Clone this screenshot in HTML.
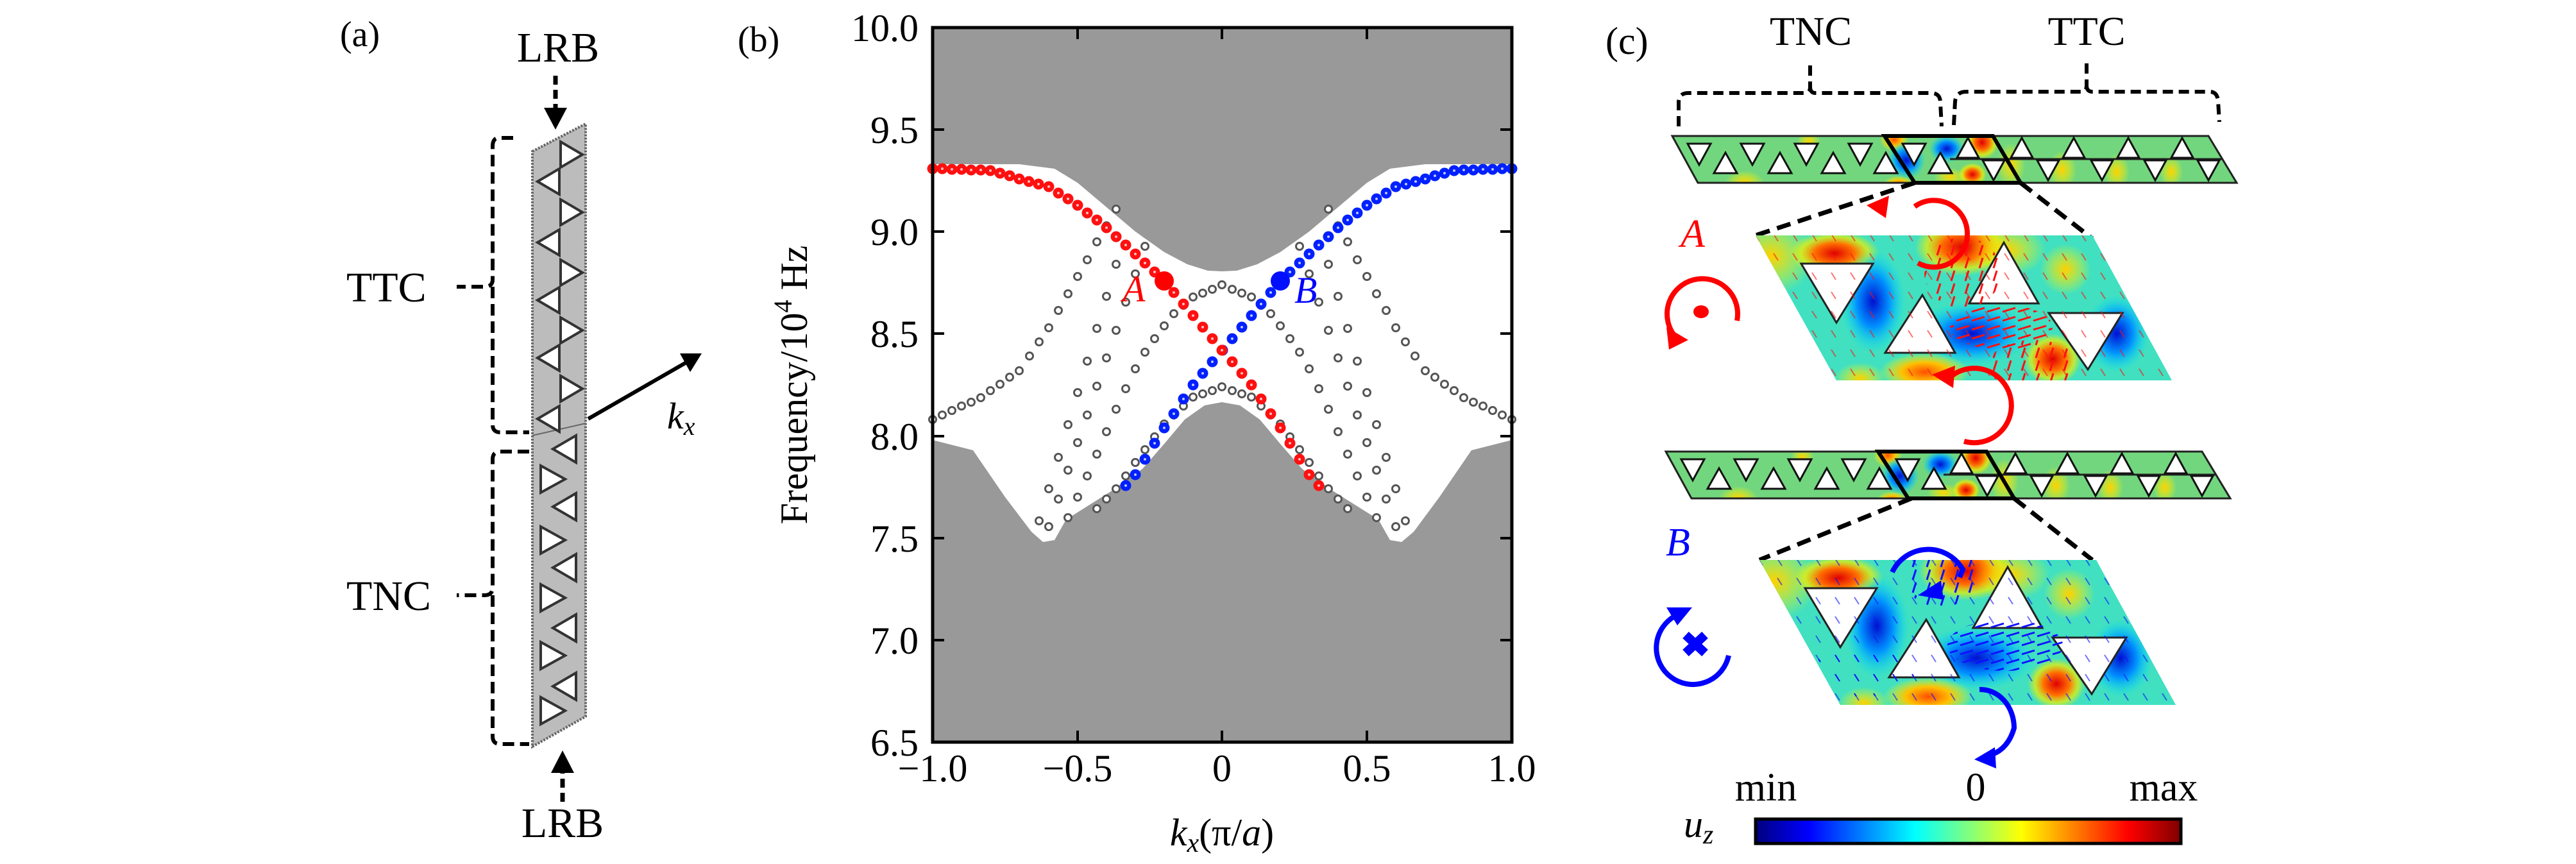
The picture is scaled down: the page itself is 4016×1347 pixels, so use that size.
<!DOCTYPE html>
<html><head><meta charset="utf-8"><style>
html,body{margin:0;padding:0;background:#fff;}
svg{display:block;}
text{font-family:"Liberation Serif",serif;}
</style></head><body>
<svg width="4016" height="1347" viewBox="0 0 4016 1347" xmlns="http://www.w3.org/2000/svg" xmlns:xlink="http://www.w3.org/1999/xlink">
<defs>
<linearGradient id="jet" x1="0" x2="1" y1="0" y2="0">
<stop offset="0" stop-color="#00007f"/><stop offset="0.125" stop-color="#0000ff"/><stop offset="0.375" stop-color="#00ffff"/><stop offset="0.625" stop-color="#ffff00"/><stop offset="0.875" stop-color="#ff0000"/><stop offset="1" stop-color="#7f0000"/>
</linearGradient>
<radialGradient id="gR"><stop offset="0" stop-color="#e00000"/><stop offset="0.45" stop-color="#ff7000"/><stop offset="0.75" stop-color="#f0f000" stop-opacity="0.7"/><stop offset="1" stop-color="#f0f000" stop-opacity="0"/></radialGradient>
<radialGradient id="gO"><stop offset="0" stop-color="#ff5000"/><stop offset="0.5" stop-color="#ffc000"/><stop offset="1" stop-color="#ffff00" stop-opacity="0"/></radialGradient>
<radialGradient id="gB"><stop offset="0" stop-color="#0010d0"/><stop offset="0.5" stop-color="#0090ff"/><stop offset="1" stop-color="#00e0ff" stop-opacity="0"/></radialGradient>
<radialGradient id="gY"><stop offset="0" stop-color="#ffd000"/><stop offset="1" stop-color="#ffff00" stop-opacity="0"/></radialGradient>
<clipPath id="cpA"><polygon points="2737,367 3262,367 3386,593 2863,593"/></clipPath>
<clipPath id="cpS1"><polygon points="2607,212 3443,212 3487,285 2647,285"/></clipPath>
<pattern id="pvR" width="22" height="20" patternUnits="userSpaceOnUse"><line x1="6" y1="18" x2="11" y2="2" stroke="#ff1010" stroke-width="3"/></pattern>
<pattern id="pvR2" width="24" height="14" patternUnits="userSpaceOnUse"><line x1="22" y1="4" x2="2" y2="10" stroke="#ff1010" stroke-width="3"/></pattern>
<pattern id="pvR3" width="30" height="30" patternUnits="userSpaceOnUse"><line x1="5" y1="5" x2="12" y2="16" stroke="#ff1010" stroke-width="2"/></pattern>
<pattern id="pvB" width="22" height="20" patternUnits="userSpaceOnUse"><line x1="6" y1="18" x2="11" y2="2" stroke="#1010ff" stroke-width="3"/></pattern>
<pattern id="pvB2" width="24" height="14" patternUnits="userSpaceOnUse"><line x1="22" y1="4" x2="2" y2="10" stroke="#1010ff" stroke-width="3"/></pattern>
<pattern id="pvB3" width="30" height="30" patternUnits="userSpaceOnUse"><line x1="5" y1="5" x2="12" y2="16" stroke="#1010ff" stroke-width="2"/></pattern>
<marker id="mR" markerUnits="userSpaceOnUse" markerWidth="20" markerHeight="20" refX="10" refY="10" viewBox="0 0 20 20"><circle cx="10" cy="10" r="8.5" fill="#ff1010"/><circle cx="10" cy="10" r="2" fill="#ffc0c0"/></marker>
<marker id="mB" markerUnits="userSpaceOnUse" markerWidth="20" markerHeight="20" refX="10" refY="10" viewBox="0 0 20 20"><circle cx="10" cy="10" r="8.5" fill="#0020ff"/><circle cx="10" cy="10" r="2" fill="#c0c8ff"/></marker>
<marker id="mG" markerUnits="userSpaceOnUse" markerWidth="16" markerHeight="16" refX="8" refY="8" viewBox="0 0 16 16"><circle cx="8" cy="8" r="5.5" fill="#fff" stroke="#555" stroke-width="3"/></marker>
</defs>

<!-- ================= Panel (a) ================= -->
<text x="530" y="72" font-size="56">(a)</text>
<text x="870" y="96" font-size="66" text-anchor="middle">LRB</text>
<line x1="866" y1="118" x2="866" y2="170" stroke="#000" stroke-width="7" stroke-dasharray="14,8"/>
<polygon points="848,168 884,168 866,202" fill="#000"/>
<polygon points="830,236 913,193 913,1117 830,1164" fill="#bcbcbc" stroke="#666" stroke-width="4" stroke-dasharray="3,2"/>
<line x1="830" y1="679" x2="913" y2="660" stroke="#666" stroke-width="2"/>
<g fill="#fff" stroke="#333" stroke-width="4">
<polygon points="838,283 872,263 872,303"/><polygon points="838,378 872,358 872,398"/><polygon points="838,468 872,448 872,488"/><polygon points="838,558 872,538 872,578"/><polygon points="838,653 872,633 872,673"/>
<polygon points="908,241 874,221 874,261"/><polygon points="908,331 874,311 874,351"/><polygon points="908,425 874,405 874,445"/><polygon points="908,515 874,495 874,535"/><polygon points="908,606 874,586 874,626"/>
<polygon points="881,747 843,726 843,768"/><polygon points="881,842 843,821 843,863"/><polygon points="881,932 843,911 843,953"/><polygon points="881,1022 843,1001 843,1043"/><polygon points="881,1108 843,1087 843,1129"/>
<polygon points="862,700 898,679 898,721"/><polygon points="862,790 898,769 898,811"/><polygon points="862,885 898,864 898,906"/><polygon points="862,979 898,958 898,1000"/><polygon points="862,1070 898,1049 898,1091"/>
</g>
<path d="M800,215 L778,215 Q768,215 768,228 L768,436 Q768,447 755,447 L712,447" fill="none" stroke="#000" stroke-width="6" stroke-dasharray="18,9"/>
<path d="M768,447 L768,662 Q768,674 780,674 L825,674" fill="none" stroke="#000" stroke-width="6" stroke-dasharray="18,9"/>
<path d="M825,704 L780,704 Q768,704 768,716 L768,916 Q768,928 755,928 L712,928" fill="none" stroke="#000" stroke-width="6" stroke-dasharray="18,9"/>
<path d="M768,928 L768,1148 Q768,1160 780,1160 L825,1160" fill="none" stroke="#000" stroke-width="6" stroke-dasharray="18,9"/>
<text x="540" y="470" font-size="66">TTC</text>
<text x="540" y="951" font-size="66">TNC</text>
<line x1="917" y1="653" x2="1070" y2="565" stroke="#000" stroke-width="6"/>
<polygon points="1094,551 1060,551 1076,580" fill="#000"/>
<text x="1040" y="668" font-size="58" font-style="italic">k<tspan font-size="40" dy="10">x</tspan></text>
<line x1="877" y1="1250" x2="877" y2="1200" stroke="#000" stroke-width="7" stroke-dasharray="14,8"/>
<polygon points="859,1205 895,1205 877,1170" fill="#000"/>
<text x="877" y="1305" font-size="66" text-anchor="middle">LRB</text>

<!-- ================= Panel (b) ================= -->
<text x="1150" y="80" font-size="56">(b)</text>
<rect x="1454" y="43" width="903" height="1114" fill="#fff"/>
<polygon fill="#999" points="1454,43 1454,256 1589,256 1644,263 1680,285 1725,323 1770,361 1815,393 1851,412 1883,422 1905,423 1928,422 1960,412 1996,393 2041,361 2086,323 2131,285 2167,263 2222,256 2357,256 2357,43"/>
<polygon fill="#999" points="1454,1157 1454,686 1517,702 1567,775 1608,829 1626,845 1644,842 1662,810 1732,766 1781,731 1815,692 1847,654 1878,632 1905,627 1933,632 1964,654 1996,692 2030,731 2079,766 2149,810 2167,842 2185,845 2204,829 2244,775 2294,702 2357,686 2357,1157"/>
<g fill="none" stroke="none" marker-start="url(#mG)" marker-mid="url(#mG)" marker-end="url(#mG)">
<polyline points="1454,654 1469,647 1484,640 1499,633 1514,627 1529,620 1544,609 1559,599 1574,588 1589,578 1605,555 1620,533 1635,511 1650,484 1665,458 1680,431 1695,405 1710,377 1725,352 1740,326"/>
<polyline points="2357,654 2342,647 2327,640 2312,633 2297,627 2282,620 2267,609 2252,599 2237,588 2222,578 2206,555 2191,533 2176,511 2161,484 2146,458 2131,431 2116,405 2101,377 2086,352 2071,326"/>
<polyline points="1635,821 1650,778 1665,733 1680,690 1695,647 1710,602 1725,558 1740,515 1755,471 1770,427 1785,384"/>
<polyline points="2176,821 2161,778 2146,733 2131,690 2116,647 2101,602 2086,558 2071,515 2056,471 2041,427 2026,384"/>
<polyline points="1620,812 1635,762 1650,713 1665,662 1680,612 1695,563 1710,512 1725,462 1740,412"/>
<polyline points="2191,812 2176,762 2161,713 2146,662 2131,612 2116,563 2101,512 2086,462 2071,412"/>
<polyline points="1665,807 1680,775 1695,742 1710,708 1725,673 1740,638 1755,606 1770,575 1785,549 1800,528 1815,508 1830,489 1845,476 1860,463 1875,457 1890,451 1905,444 1921,451 1936,457 1951,463 1966,476 1981,489 1996,508 2011,528 2026,549 2041,575 2056,606 2071,638 2086,673 2101,708 2116,742 2131,775 2146,807"/>
<polyline points="1710,793 1725,778 1740,762 1755,742 1770,721 1785,701 1800,681 1815,661 1830,647 1845,633 1860,619 1875,614 1890,609 1905,603 1921,609 1936,614 1951,619 1966,633 1981,647 1996,661 2011,681 2026,701 2041,721 2056,742 2071,762 2086,778 2101,793"/>
</g>
<polyline fill="none" stroke="none" marker-start="url(#mB)" marker-mid="url(#mB)" marker-end="url(#mB)" points="2357,263 2342,263 2327,264 2312,264 2297,265 2282,265 2267,266 2252,270 2237,274 2222,279 2207,283 2192,287 2176,291 2161,301 2146,310 2131,320 2116,332 2101,343 2086,355 2071,369 2056,382 2041,396 2026,410 2011,424 1996,438 1981,456 1966,474 1951,492 1936,510 1921,528 1906,546 1890,564 1875,582 1860,600 1845,622 1830,645 1815,667 1800,691 1785,716 1770,740 1755,757"/>
<polyline fill="none" stroke="none" marker-start="url(#mR)" marker-mid="url(#mR)" marker-end="url(#mR)" points="1454,263 1469,263 1484,264 1499,264 1514,265 1529,265 1544,266 1559,270 1574,274 1589,279 1604,283 1619,287 1635,291 1650,301 1665,310 1680,320 1695,332 1710,343 1725,355 1740,369 1755,382 1770,396 1785,410 1800,424 1815,438 1830,456 1845,474 1860,492 1875,510 1890,528 1905,546 1921,564 1936,582 1951,600 1966,622 1981,645 1996,667 2011,691 2026,716 2041,740 2056,757"/>
<circle cx="1815" cy="438" r="15" fill="#ff0000"/>
<circle cx="1996" cy="438" r="15" fill="#0010ff"/>
<rect x="1454" y="43" width="903" height="1114" fill="none" stroke="#000" stroke-width="5"/>
<g stroke="#000" stroke-width="4">
<line x1="1454" y1="1157" x2="1472" y2="1157"/><line x1="1454" y1="998" x2="1472" y2="998"/><line x1="1454" y1="839" x2="1472" y2="839"/><line x1="1454" y1="680" x2="1472" y2="680"/><line x1="1454" y1="520" x2="1472" y2="520"/><line x1="1454" y1="361" x2="1472" y2="361"/><line x1="1454" y1="202" x2="1472" y2="202"/><line x1="1454" y1="43" x2="1472" y2="43"/>
<line x1="2357" y1="998" x2="2339" y2="998"/><line x1="2357" y1="839" x2="2339" y2="839"/><line x1="2357" y1="680" x2="2339" y2="680"/><line x1="2357" y1="520" x2="2339" y2="520"/><line x1="2357" y1="361" x2="2339" y2="361"/><line x1="2357" y1="202" x2="2339" y2="202"/>
<line x1="1680" y1="1157" x2="1680" y2="1139"/><line x1="1905" y1="1157" x2="1905" y2="1139"/><line x1="2131" y1="1157" x2="2131" y2="1139"/>
<line x1="1680" y1="43" x2="1680" y2="61"/><line x1="1905" y1="43" x2="1905" y2="61"/><line x1="2131" y1="43" x2="2131" y2="61"/>
</g>
<g font-size="60" text-anchor="end">
<text x="1432" y="1178">6.5</text><text x="1432" y="1019">7.0</text><text x="1432" y="860">7.5</text><text x="1432" y="701">8.0</text><text x="1432" y="541">8.5</text><text x="1432" y="382">9.0</text><text x="1432" y="223">9.5</text><text x="1432" y="64">10.0</text>
</g>
<g font-size="60" text-anchor="middle">
<text x="1454" y="1218">−1.0</text><text x="1680" y="1218">−0.5</text><text x="1905" y="1218">0</text><text x="2131" y="1218">0.5</text><text x="2357" y="1218">1.0</text>
</g>
<text transform="translate(1258,600) rotate(-90)" font-size="60" text-anchor="middle">Frequency/10<tspan font-size="40" dy="-24">4</tspan><tspan dy="24"> Hz</tspan></text>
<text x="1905" y="1318" font-size="60" text-anchor="middle"><tspan font-style="italic">k</tspan><tspan font-style="italic" font-size="42" dy="10">x</tspan><tspan dy="-10">(π/</tspan><tspan font-style="italic">a</tspan>)</text>
<text x="1750" y="470" font-size="58" font-style="italic" fill="#ff0000">A</text>
<text x="2018" y="472" font-size="58" font-style="italic" fill="#0000ff">B</text>

<!-- ================= Panel (c) ================= -->
<text x="2503" y="84" font-size="60">(c)</text>
<text x="2823" y="70" font-size="64" text-anchor="middle">TNC</text>
<text x="3253" y="70" font-size="64" text-anchor="middle">TTC</text>
<path d="M2617,197 L2617,160 Q2617,145 2632,145 L2815,145 Q2822,145 2822,135 L2822,97 M2822,135 Q2822,145 2830,145 L3010,145 Q3025,145 3025,160 L3027,197" fill="none" stroke="#000" stroke-width="6" stroke-dasharray="16,9"/>
<path d="M3046,195 L3048,158 Q3050,143 3065,143 L3245,143 Q3253,143 3253,133 L3253,95 M3253,133 Q3253,143 3262,143 L3445,143 Q3457,143 3458,158 L3460,190" fill="none" stroke="#000" stroke-width="6" stroke-dasharray="16,9"/>

<g id="strip1">
<polygon points="2607,212 3443,212 3487,285 2647,285" fill="#72d67e"/>
<g clip-path="url(#cpS1)">
<ellipse cx="2953" cy="218" rx="22" ry="18" fill="url(#gO)"/>
<ellipse cx="2720" cy="284" rx="30" ry="18" fill="url(#gY)"/>
<ellipse cx="2972" cy="250" rx="30" ry="30" fill="url(#gB)"/>
<ellipse cx="3035" cy="232" rx="28" ry="22" fill="url(#gB)"/>
<ellipse cx="3090" cy="222" rx="26" ry="26" fill="url(#gR)"/>
<ellipse cx="2960" cy="288" rx="24" ry="14" fill="url(#gO)"/>
<ellipse cx="3075" cy="272" rx="22" ry="18" fill="url(#gR)"/>
<ellipse cx="3040" cy="276" rx="25" ry="14" fill="url(#gY)"/>
<ellipse cx="3135" cy="258" rx="22" ry="35" fill="url(#gY)"/>
<ellipse cx="3215" cy="265" rx="22" ry="30" fill="url(#gY)"/>
<ellipse cx="3300" cy="268" rx="20" ry="28" fill="url(#gY)"/>
<ellipse cx="3385" cy="268" rx="18" ry="25" fill="url(#gY)"/>
<ellipse cx="2820" cy="220" rx="18" ry="15" fill="url(#gY)"/>
</g>
<polygon points="2607,212 3443,212 3487,285 2647,285" fill="none" stroke="#222" stroke-width="3"/>
<line x1="3040" y1="248" x2="3465" y2="248" stroke="#222" stroke-width="3"/>
<g fill="#fff" stroke="#111" stroke-width="3">
<polygon points="2631,224 2667,224 2649,257"/><polygon points="2714,224 2750,224 2732,257"/><polygon points="2798,224 2834,224 2816,257"/><polygon points="2882,224 2918,224 2900,257"/><polygon points="2966,224 3002,224 2984,257"/>
<polygon points="2672,270 2708,270 2690,238"/><polygon points="2757,270 2793,270 2775,238"/><polygon points="2840,270 2876,270 2858,238"/><polygon points="2922,270 2958,270 2940,238"/><polygon points="3007,270 3043,270 3025,238"/>
<polygon points="3051,246 3085,246 3068,215"/><polygon points="3135,246 3169,246 3152,215"/><polygon points="3216,246 3250,246 3233,215"/><polygon points="3301,246 3335,246 3318,215"/><polygon points="3385,246 3419,246 3402,215"/>
<polygon points="3091,250 3125,250 3108,281"/><polygon points="3176,250 3210,250 3193,281"/><polygon points="3260,250 3294,250 3277,281"/><polygon points="3343,250 3377,250 3360,281"/><polygon points="3426,250 3460,250 3443,281"/>
</g>
<polygon points="2938,212 3107,212 3150,285 2985,285" fill="none" stroke="#000" stroke-width="6"/>
</g>
<use xlink:href="#strip1" href="#strip1" transform="translate(-10,492)"/>

<line x1="2985" y1="285" x2="2737" y2="367" stroke="#000" stroke-width="7" stroke-dasharray="22,12"/>
<line x1="3150" y1="285" x2="3262" y2="372" stroke="#000" stroke-width="7" stroke-dasharray="22,12"/>
<line x1="2980" y1="777" x2="2743" y2="873" stroke="#000" stroke-width="7" stroke-dasharray="22,12"/>
<line x1="3140" y1="777" x2="3262" y2="873" stroke="#000" stroke-width="7" stroke-dasharray="22,12"/>

<!-- parallelogram A -->
<g id="parAbase">
<polygon points="2737,367 3262,367 3386,593 2863,593" fill="#40e0c0"/>
<g clip-path="url(#cpA)">
<ellipse cx="2760" cy="400" rx="70" ry="60" fill="url(#gY)"/>
<ellipse cx="2860" cy="395" rx="70" ry="35" fill="url(#gR)"/>
<ellipse cx="3060" cy="385" rx="75" ry="45" fill="url(#gR)"/>
<ellipse cx="3130" cy="390" rx="60" ry="40" fill="url(#gY)"/>
<ellipse cx="2920" cy="470" rx="50" ry="80" fill="url(#gB)"/>
<ellipse cx="3075" cy="520" rx="90" ry="50" fill="url(#gB)"/>
<ellipse cx="3000" cy="580" rx="70" ry="30" fill="url(#gO)"/>
<ellipse cx="3200" cy="560" rx="45" ry="40" fill="url(#gR)"/>
<ellipse cx="2780" cy="560" rx="50" ry="30" fill="url(#gY)"/>
<ellipse cx="3300" cy="520" rx="50" ry="60" fill="url(#gB)"/>
<ellipse cx="3220" cy="420" rx="40" ry="40" fill="url(#gY)"/>
<ellipse cx="2900" cy="590" rx="40" ry="25" fill="url(#gY)"/>
</g>
<g fill="#fff" stroke="#222" stroke-width="3">
<polygon points="2808,411 2920,411 2863,503"/>
<polygon points="2939,550 3048,550 2997,460"/>
<polygon points="3070,473 3178,473 3124,378"/>
<polygon points="3194,488 3309,488 3255,576"/>
</g>
</g>
<g clip-path="url(#cpA)">
<ellipse cx="3060" cy="425" rx="60" ry="55" fill="url(#pvR)"/>
<ellipse cx="3120" cy="510" rx="80" ry="35" fill="url(#pvR2)"/>
<ellipse cx="3170" cy="570" rx="70" ry="40" fill="url(#pvR)"/>
<polygon points="2737,367 3262,367 3386,593 2863,593" fill="url(#pvR3)" opacity="0.6"/>
</g>
<!-- parallelogram B -->
<use xlink:href="#parAbase" href="#parAbase" transform="translate(6,506)"/>
<g clip-path="url(#cpA)" transform="translate(6,506)">
<ellipse cx="3020" cy="390" rx="60" ry="50" fill="url(#pvB)"/>
<ellipse cx="3120" cy="500" rx="90" ry="40" fill="url(#pvB2)"/>
<ellipse cx="2900" cy="540" rx="80" ry="40" fill="url(#pvB3)"/>
<polygon points="2737,367 3262,367 3386,593 2863,593" fill="url(#pvB3)" opacity="0.6"/>
</g>

<text x="2620" y="385" font-size="62" font-style="italic" fill="#ff0000">A</text>
<path d="M2612,525 A55,55 0 1 1 2708,500" fill="none" stroke="#ff0000" stroke-width="8"/>
<polygon points="2598,510 2632,530 2602,545" fill="#ff0000"/>
<ellipse cx="2652" cy="486" rx="12" ry="10" fill="#ff0000"/>
<text x="2597" y="866" font-size="62" font-style="italic" fill="#0000ff">B</text>
<path d="M2695,1022 A57,57 0 1 1 2612,960" fill="none" stroke="#0000ff" stroke-width="8"/>
<polygon points="2598,947 2638,947 2615,975" fill="#0000ff"/>
<g stroke="#0000ff" stroke-width="14"><line x1="2628" y1="990" x2="2658" y2="1018"/><line x1="2658" y1="990" x2="2628" y2="1018"/></g>
<path d="M2985,322 A52,52 0 1 1 2990,410" fill="none" stroke="#ff0000" stroke-width="8"/>
<polygon points="2910,320 2945,305 2940,340" fill="#ff0000"/>
<path d="M3038,590 A58,58 0 1 1 3062,688" fill="none" stroke="#ff0000" stroke-width="8"/>
<polygon points="3012,584 3048,570 3045,605" fill="#ff0000"/>
<path d="M2950,892 A62,62 0 0 1 3060,888 L3055,900" fill="none" stroke="#0000ff" stroke-width="8"/>
<polygon points="2990,928 3026,905 3030,935" fill="#0000ff"/>
<path d="M3086,1075 A52,60 0 0 1 3140,1135 Q3130,1170 3100,1178" fill="none" stroke="#0000ff" stroke-width="8"/>
<polygon points="3078,1184 3110,1165 3112,1198" fill="#0000ff"/>

<text x="2753" y="1248" font-size="62" text-anchor="middle">min</text>
<text x="3080" y="1248" font-size="62" text-anchor="middle">0</text>
<text x="3373" y="1248" font-size="62" text-anchor="middle">max</text>
<text x="2625" y="1305" font-size="60" font-style="italic">u<tspan font-size="42" dy="10">z</tspan></text>
<rect x="2737" y="1277" width="663" height="38" fill="url(#jet)" stroke="#000" stroke-width="5"/>
</svg>
</body></html>
